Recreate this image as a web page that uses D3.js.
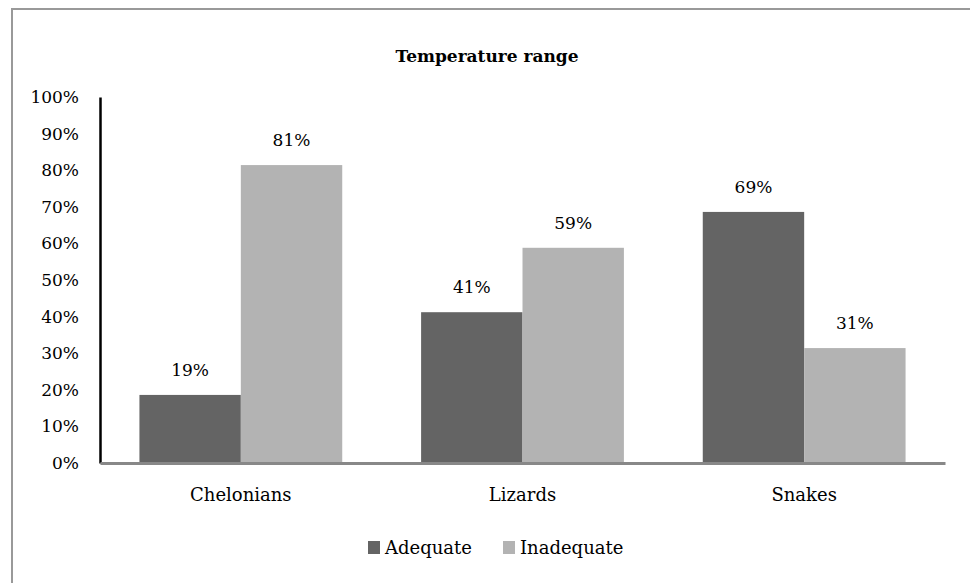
<!DOCTYPE html>
<html>
<head>
<meta charset="utf-8">
<script src="https://cdn.jsdelivr.net/npm/d3@7"></script>
<style>
  body { margin: 0; background: #fff; }
  text { font-family: "DejaVu Serif", "Liberation Serif", serif; fill: #000; }
</style>
</head>
<body>
<div id="chart"></div>
<script>
// data
var categories = ["Chelonians", "Lizards", "Snakes"];
var seriesNames = ["Adequate", "Inadequate"];
var adequate = [18.6, 41.2, 68.6];
var inadequate = [81.4, 58.8, 31.4];
var yTicks = [0, 10, 20, 30, 40, 50, 60, 70, 80, 90, 100];
var colors = ["#646464", "#b3b3b3"];

var width = 970, height = 583;
var margin = {left: 100, right: 25, top: 97, bottom: 120};

var svg = d3.select("#chart").append("svg")
  .attr("width", width)
  .attr("height", height);

// outer frame
svg.append("rect")
  .attr("x", 12).attr("y", 9)
  .attr("width", 970).attr("height", 600)
  .attr("fill", "none")
  .attr("stroke", "#999")
  .attr("stroke-width", 2);

svg.append("text")
  .attr("x", 487).attr("y", 62)
  .attr("text-anchor", "middle")
  .style("font-size", "17px")
  .style("font-weight", "bold")
  .text("Temperature range");

var x0 = d3.scaleBand()
  .domain(categories)
  .range([margin.left, width - margin.right])
  .paddingInner(0.28)
  .paddingOuter(0.14);

var x1 = d3.scaleBand()
  .domain(seriesNames)
  .range([0, x0.bandwidth()]);

var y = d3.scaleLinear()
  .domain([0, 100])
  .range([height - margin.bottom, margin.top]);

var rows = categories.map(function(c, i) {
  return {cat: c, values: [adequate[i], inadequate[i]]};
});

var groups = svg.selectAll("g.grp")
  .data(rows)
  .enter().append("g")
  .attr("class", "grp")
  .attr("transform", function(d) { return "translate(" + x0(d.cat) + ",0)"; });

groups.selectAll("rect")
  .data(function(d) { return d.values.map(function(v, k) { return {s: seriesNames[k], v: v, k: k}; }); })
  .enter().append("rect")
  .attr("x", function(d) { return x1(d.s); })
  .attr("y", function(d) { return y(d.v); })
  .attr("width", x1.bandwidth())
  .attr("height", function(d) { return y(0) - y(d.v); })
  .attr("fill", function(d) { return colors[d.k]; });

groups.selectAll("text.lbl")
  .data(function(d) { return d.values.map(function(v, k) { return {s: seriesNames[k], v: v}; }); })
  .enter().append("text")
  .attr("class", "lbl")
  .attr("x", function(d) { return x1(d.s) + x1.bandwidth() / 2; })
  .attr("y", function(d) { return y(d.v) - 19; })
  .attr("text-anchor", "middle")
  .style("font-size", "17px")
  .text(function(d) { return Math.round(d.v) + "%"; });

// y axis
var yAxis = svg.append("g")
  .attr("transform", "translate(" + margin.left + ",0)")
  .call(d3.axisLeft(y).tickValues(yTicks).tickSize(0).tickPadding(21)
    .tickFormat(function(d) { return d + "%"; }));
yAxis.select(".domain").attr("stroke", "#000").attr("stroke-width", 2.5);
yAxis.selectAll("text").style("font-size", "17px").style("font-family", "DejaVu Serif, serif");

// x axis
var xAxis = svg.append("g")
  .attr("transform", "translate(0," + y(0) + ")")
  .call(d3.axisBottom(x0).tickSize(0).tickPadding(25));
xAxis.select(".domain").attr("stroke", "#888").attr("stroke-width", 3);
xAxis.selectAll("text").style("font-size", "18px").style("font-family", "DejaVu Serif, serif");

// legend
var legendX = [368, 503];
var legend = svg.selectAll("g.leg")
  .data(seriesNames)
  .enter().append("g")
  .attr("class", "leg")
  .attr("transform", function(d, i) { return "translate(" + legendX[i] + ",541)"; });
legend.append("rect")
  .attr("width", 12).attr("height", 13)
  .attr("fill", function(d, i) { return colors[i]; });
legend.append("text")
  .attr("x", 17).attr("y", 13)
  .style("font-size", "18px")
  .text(function(d) { return d; });
</script>
</body>
</html>
